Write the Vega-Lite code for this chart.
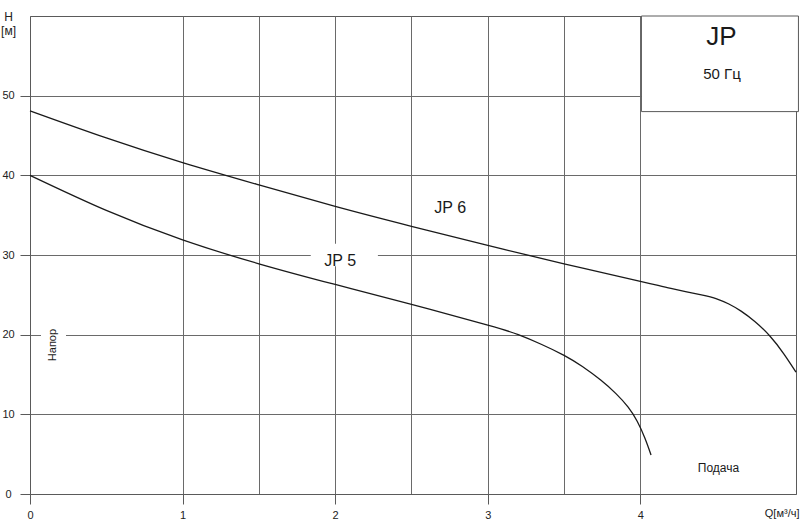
{
  "$schema": "https://vega.github.io/schema/vega-lite/v6.json",
  "width": 766,
  "height": 478,
  "autosize": "none",
  "padding": {"left": 30, "top": 16, "right": 4, "bottom": 38},
  "background": "white",
  "config": {
    "font": "Liberation Sans",
    "view": {"stroke": "#5a5a5a", "strokeWidth": 1}
  },
  "layer": [
    {
      "data": {
        "values": [
          {"pump": "JP 6", "q": 0, "h": 48.1},
          {"pump": "JP 6", "q": 0.5, "h": 44.7},
          {"pump": "JP 6", "q": 1.0, "h": 41.6},
          {"pump": "JP 6", "q": 1.5, "h": 38.8},
          {"pump": "JP 6", "q": 2.0, "h": 36.1},
          {"pump": "JP 6", "q": 2.5, "h": 33.6},
          {"pump": "JP 6", "q": 3.0, "h": 31.2},
          {"pump": "JP 6", "q": 3.5, "h": 28.9},
          {"pump": "JP 6", "q": 4.0, "h": 26.7},
          {"pump": "JP 6", "q": 4.2, "h": 25.8},
          {"pump": "JP 6", "q": 4.4, "h": 25.0},
          {"pump": "JP 6", "q": 4.5, "h": 24.5},
          {"pump": "JP 6", "q": 4.58, "h": 23.85},
          {"pump": "JP 6", "q": 4.66, "h": 22.95},
          {"pump": "JP 6", "q": 4.75, "h": 21.65},
          {"pump": "JP 6", "q": 4.85, "h": 19.8},
          {"pump": "JP 6", "q": 4.94, "h": 17.6},
          {"pump": "JP 6", "q": 5.02, "h": 15.3},
          {"pump": "JP 5", "q": 0, "h": 40.0},
          {"pump": "JP 5", "q": 0.5, "h": 35.6},
          {"pump": "JP 5", "q": 1.0, "h": 31.9},
          {"pump": "JP 5", "q": 1.5, "h": 28.9},
          {"pump": "JP 5", "q": 2.0, "h": 26.3},
          {"pump": "JP 5", "q": 2.5, "h": 23.8},
          {"pump": "JP 5", "q": 3.0, "h": 21.2},
          {"pump": "JP 5", "q": 3.2, "h": 20.0},
          {"pump": "JP 5", "q": 3.35, "h": 18.8},
          {"pump": "JP 5", "q": 3.5, "h": 17.4},
          {"pump": "JP 5", "q": 3.62, "h": 16.0},
          {"pump": "JP 5", "q": 3.74, "h": 14.3},
          {"pump": "JP 5", "q": 3.84, "h": 12.6},
          {"pump": "JP 5", "q": 3.92, "h": 10.9},
          {"pump": "JP 5", "q": 3.98, "h": 9.1},
          {"pump": "JP 5", "q": 4.03, "h": 7.0},
          {"pump": "JP 5", "q": 4.07, "h": 4.9}
        ]
      },
      "mark": {"type": "line", "interpolate": "natural", "color": "#1a1a1a", "strokeWidth": 1.3},
      "encoding": {
        "x": {
          "field": "q",
          "type": "quantitative",
          "scale": {"domain": [0, 5.02], "nice": false, "zero": false},
          "axis": {
            "title": "Q[м³/ч]",
            "titleX": 769,
            "titleY": 19,
            "titleAlign": "right",
            "titleBaseline": "middle",
            "titleFontSize": 11,
            "titleFontWeight": "normal",
            "titleColor": "#222",
            "values": [0, 1, 1.5, 2, 2.5, 3, 3.5, 4],
            "labelExpr": "datum.value % 1 === 0 ? format(datum.value, 'd') : ''",
            "labelFontSize": 11,
            "labelColor": "#222",
            "labelPadding": 5,
            "labelFlush": false,
            "tickSize": 10,
            "tickColor": "#5a5a5a",
            "tickOpacity": {"condition": {"test": "datum.value % 1 !== 0", "value": 0}, "value": 1},
            "domainColor": "#5a5a5a",
            "grid": true,
            "gridColor": "#6a6a6a",
            "gridOpacity": {"condition": {"test": "datum.value === 0", "value": 0}, "value": 1}
          }
        },
        "y": {
          "field": "h",
          "type": "quantitative",
          "scale": {"domain": [0, 60], "nice": false},
          "axis": {
            "title": ["H", "[м]"],
            "titleAngle": 0,
            "titleAlign": "center",
            "titleBaseline": "top",
            "titleX": -22,
            "titleY": -5,
            "titleFontSize": 12,
            "titleFontWeight": "normal",
            "titleLineHeight": 14,
            "titleColor": "#222",
            "values": [0, 10, 20, 30, 40, 50],
            "labelFontSize": 11,
            "labelColor": "#222",
            "labelAlign": "center",
            "labelPadding": 12,
            "tickSize": 10,
            "tickColor": "#5a5a5a",
            "domainColor": "#5a5a5a",
            "grid": true,
            "gridColor": "#6a6a6a",
            "gridOpacity": {"condition": {"test": "datum.value === 0", "value": 0}, "value": 1}
          }
        },
        "detail": {"field": "pump", "type": "nominal"}
      }
    },
    {
      "data": {
        "values": [
          {"q": 1.84, "q2": 2.28, "h": 28.6, "h2": 31.4},
          {"q": 0.072, "q2": 0.236, "h": 15.5, "h2": 22}
        ]
      },
      "mark": {"type": "rect", "fill": "white"},
      "encoding": {
        "x": {"field": "q", "type": "quantitative"},
        "x2": {"field": "q2"},
        "y": {"field": "h", "type": "quantitative"},
        "y2": {"field": "h2"}
      }
    },
    {
      "data": {"values": [{"q": 4.007, "q2": 5.036, "h": 48.0, "h2": 60}]},
      "mark": {"type": "rect", "fill": "white", "stroke": "#5a5a5a", "strokeWidth": 1},
      "encoding": {
        "x": {"field": "q", "type": "quantitative"},
        "x2": {"field": "q2"},
        "y": {"field": "h", "type": "quantitative"},
        "y2": {"field": "h2"}
      }
    },
    {
      "data": {"values": [{"q": 2.754, "h": 35.9, "label": "JP 6"}, {"q": 2.033, "h": 29.3, "label": "JP 5"}]},
      "mark": {"type": "text", "fontSize": 16, "align": "center", "baseline": "middle", "color": "#1a1a1a"},
      "encoding": {
        "x": {"field": "q", "type": "quantitative"},
        "y": {"field": "h", "type": "quantitative"},
        "text": {"field": "label"}
      }
    },
    {
      "data": {"values": [{"q": 4.531, "h": 57.4, "label": "JP"}]},
      "mark": {"type": "text", "fontSize": 26, "align": "center", "baseline": "middle", "color": "#1a1a1a"},
      "encoding": {
        "x": {"field": "q", "type": "quantitative"},
        "y": {"field": "h", "type": "quantitative"},
        "text": {"field": "label"}
      }
    },
    {
      "data": {"values": [{"q": 4.535, "h": 52.7, "label": "50 Гц"}]},
      "mark": {"type": "text", "fontSize": 15, "align": "center", "baseline": "middle", "color": "#1a1a1a"},
      "encoding": {
        "x": {"field": "q", "type": "quantitative"},
        "y": {"field": "h", "type": "quantitative"},
        "text": {"field": "label"}
      }
    },
    {
      "data": {"values": [{"q": 4.512, "h": 3.27, "label": "Подача"}]},
      "mark": {"type": "text", "fontSize": 12, "align": "center", "baseline": "middle", "color": "#1a1a1a"},
      "encoding": {
        "x": {"field": "q", "type": "quantitative"},
        "y": {"field": "h", "type": "quantitative"},
        "text": {"field": "label"}
      }
    },
    {
      "data": {"values": [{"q": 0.151, "h": 18.7, "label": "Напор"}]},
      "mark": {"type": "text", "fontSize": 11, "angle": 270, "align": "center", "baseline": "middle", "color": "#1a1a1a"},
      "encoding": {
        "x": {"field": "q", "type": "quantitative"},
        "y": {"field": "h", "type": "quantitative"},
        "text": {"field": "label"}
      }
    }
  ]
}
